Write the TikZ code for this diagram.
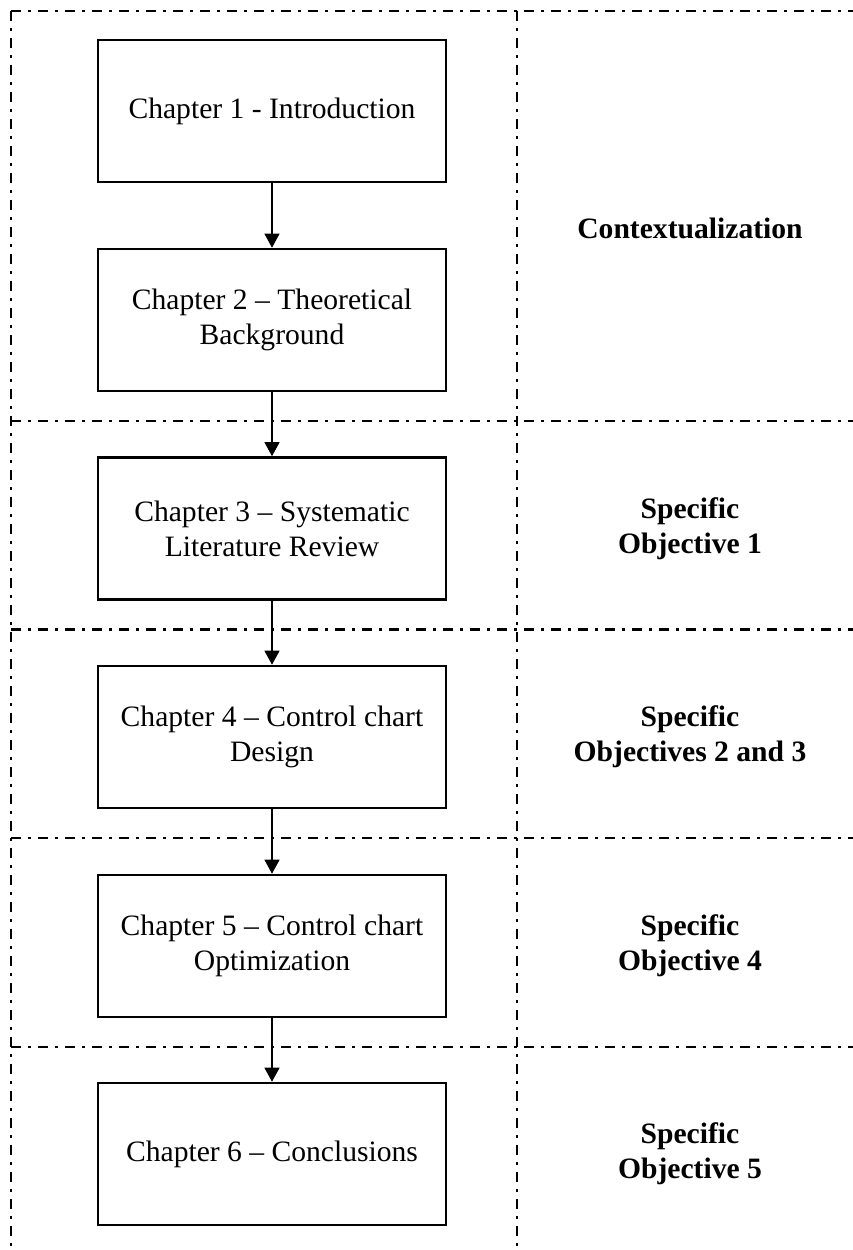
\documentclass[tikz,border=0pt]{standalone}
\usepackage{fontspec}
\setmainfont{Liberation Serif}
\usetikzlibrary{arrows.meta}
\tikzset{
  chapbox/.style={draw, line width=2.6pt, minimum width=348pt, minimum height=142pt, align=center, inner sep=0pt,
    font=\fontsize{29.6}{35}\selectfont},
  objlabel/.style={align=center, inner sep=0pt, font=\fontsize{29.6}{35}\selectfont\bfseries},
  sepline/.style={line width=2.3pt, dash pattern=on 9.5pt off 7.5pt on 2.5pt off 7.5pt},
  flow/.style={line width=1.1pt, -{Triangle[width=15pt,length=14pt]}}
}
\begin{document}
\begin{tikzpicture}[x=1pt,y=-1pt]
\useasboundingbox (0,0) rectangle (853,1250);
% separators
\coordinate (tl) at (11,11);
\coordinate (tr) at (853,11);
\coordinate (bl) at (11,1250);
\coordinate (mt) at (517,11);
\coordinate (mb) at (517,1250);
\coordinate (h1l) at (11,421);  \coordinate (h1r) at (853,421);
\coordinate (h2l) at (11,629.5); \coordinate (h2r) at (853,629.5);
\coordinate (h3l) at (11,838);  \coordinate (h3r) at (853,838);
\coordinate (h4l) at (11,1047); \coordinate (h4r) at (853,1047);
\draw[sepline] (tl) -- (tr);
\draw[sepline] (tl) -- (bl);
\draw[sepline] (mt) -- (mb);
\draw[sepline] (h1l) -- (h1r);
\draw[sepline] (h2l) -- (h2r);
\draw[sepline] (h3l) -- (h3r);
\draw[sepline] (h4l) -- (h4r);
% chapter boxes
\node[chapbox, fill=white] (c1) at (272,111) {Chapter 1 - Introduction};
\node[chapbox, fill=white] (c2) at (272,320) {Chapter 2 -- Theoretical\\Background};
\node[chapbox, fill=white] (c3) at (272,528.5) {Chapter 3 -- Systematic\\Literature Review};
\node[chapbox, fill=white] (c4) at (272,737) {Chapter 4 -- Control chart\\Design};
\node[chapbox, fill=white] (c5) at (272,946) {Chapter 5 -- Control chart\\Optimization};
\node[chapbox, fill=white] (c6) at (272,1154) {Chapter 6 -- Conclusions};
% arrows
\draw[flow] (c1.south) -- (c2.north);
\draw[flow] (c2.south) -- (c3.north);
\draw[flow] (c3.south) -- (c4.north);
\draw[flow] (c4.south) -- (c5.north);
\draw[flow] (c5.south) -- (c6.north);
% labels
\node[objlabel] (o0) at (690,228) {Contextualization};
\node[objlabel] (o1) at (690,528.5) {Specific\\Objective 1};
\node[objlabel] (o2) at (690,737) {Specific\\Objectives 2 and 3};
\node[objlabel] (o3) at (690,946) {Specific\\Objective 4};
\node[objlabel] (o4) at (690,1154) {Specific\\Objective 5};
\end{tikzpicture}
\end{document}
